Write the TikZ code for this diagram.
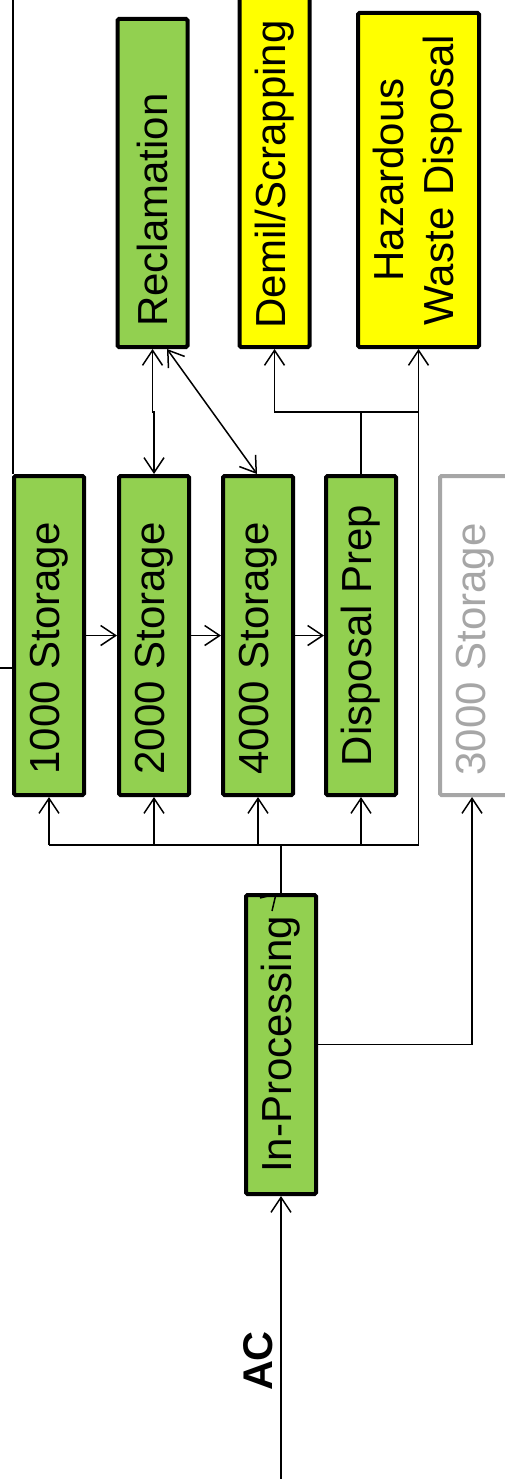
\documentclass[tikz,border=0pt]{standalone}
\usepackage{fontspec}
\setmainfont{Liberation Sans}
\usetikzlibrary{arrows.meta,calc}
\definecolor{boxgreen}{HTML}{92D050}
\definecolor{boxyellow}{HTML}{FFFF00}
\definecolor{ghost}{HTML}{A6A6A6}
\begin{document}
\begin{tikzpicture}[x=1pt,y=-1pt,
  box/.style={draw=black,line width=4pt,rounded corners=1.5pt,inner sep=0pt,
    font=\fontsize{42}{50}\selectfont,minimum width=70pt},
  gbox/.style={box,fill=boxgreen},
  ybox/.style={box,fill=boxyellow},
  link/.style={line width=1.5pt},
  arr/.style={link,-{Straight Barb[length=15pt,width=20pt]}},
  darr/.style={link,{Straight Barb[length=15pt,width=20pt]}-{Straight Barb[length=15pt,width=20pt]}}]
\useasboundingbox (0,0) rectangle (505,1479);

% top row
\node[gbox,minimum height=328pt] (rec) at (152.5,183) {\rotatebox{90}{Reclamation\hspace{54pt}}};
\node[ybox,minimum height=350pt] (demil) at (274.5,172) {\rotatebox{90}{Demil/Scrapping\hspace{5pt}}};
\node[ybox,minimum width=121pt,minimum height=334pt] (haz) at (418.5,180)
  {\rotatebox{90}{\begin{tabular}{@{}c@{}}Hazardous\\Waste Disposal\end{tabular}}};

% storage row
\node[gbox,minimum height=319pt] (s1000) at (49,635.5) {\rotatebox{90}{1000 Storage\hspace{26pt}}};
\node[gbox,minimum height=319pt] (s2000) at (154,635.5) {\rotatebox{90}{2000 Storage\hspace{26pt}}};
\node[gbox,minimum height=319pt] (s4000) at (258,635.5) {\rotatebox{90}{4000 Storage\hspace{26pt}}};
\node[gbox,minimum height=319pt] (dprep) at (361,635.5) {\rotatebox{90}{Disposal Prep}};
\node[box,draw=ghost,fill=white,text=ghost,minimum height=319pt] (s3000) at (475,635.5) {\rotatebox{90}{3000 Storage\hspace{28pt}}};

% in-processing
\node[gbox,minimum height=299pt] (inproc) at (281,1044.5) {\rotatebox{90}{In-Processing}};
\node[inner sep=0pt,font=\bfseries\fontsize{41.5}{50}\selectfont] (ac) at (258,1361) {\rotatebox{90}{AC}};

% coordinates
\coordinate (topl) at (13,0);
\coordinate (leftin) at (0,668);
\coordinate (busL) at (49,845);
\coordinate (busR) at (418.5,845);
\coordinate (split) at (0,412);
\coordinate (s3in) at (472,1045);
\coordinate (acstart) at (281,1479);

% connectors
\draw[link] (topl) -- (topl |- s1000.north);
\draw[link] (leftin) -- (leftin -| s1000.west);
\draw[arr] (s1000.east) -- (s2000.west);
\draw[arr] (s2000.east) -- (s4000.west);
\draw[arr] (s4000.east) -- (dprep.west);

\draw[arr] (acstart) -- (inproc.south);
\draw[line width=2.5pt] (inproc.north) -- (inproc.north |- busL);
\draw[link] (busL) -- (busR);
\draw[arr] (busL) -- (s1000.south);
\draw[arr] (s2000.south |- busL) -- (s2000.south);
\draw[arr] (s4000.south |- busL) -- (s4000.south);
\draw[arr] (dprep.south |- busL) -- (dprep.south);
\draw[arr] (busR) -- (haz.south);
\draw[arr] (inproc.east) -- (inproc.east -| s3in) -- (s3in |- s3000.south);

\draw[darr] (rec.south) -- (rec.south |- split) -| (s2000.north);
\draw[darr] ([xshift=14.5pt]rec.south) -- ([xshift=-1pt]s4000.north);
\draw[line width=2pt] (dprep.north) -- (dprep.north |- split);
\draw[arr] (split -| busR) -- (split -| demil.south) -- (demil.south);

% stray arrow tip at top of In-Processing
\draw[link] ([shift={(-21,5)}]inproc.north) -- ([shift={(-5,1)}]inproc.north) -- ([shift={(-9,18)}]inproc.north);
\end{tikzpicture}
\end{document}
